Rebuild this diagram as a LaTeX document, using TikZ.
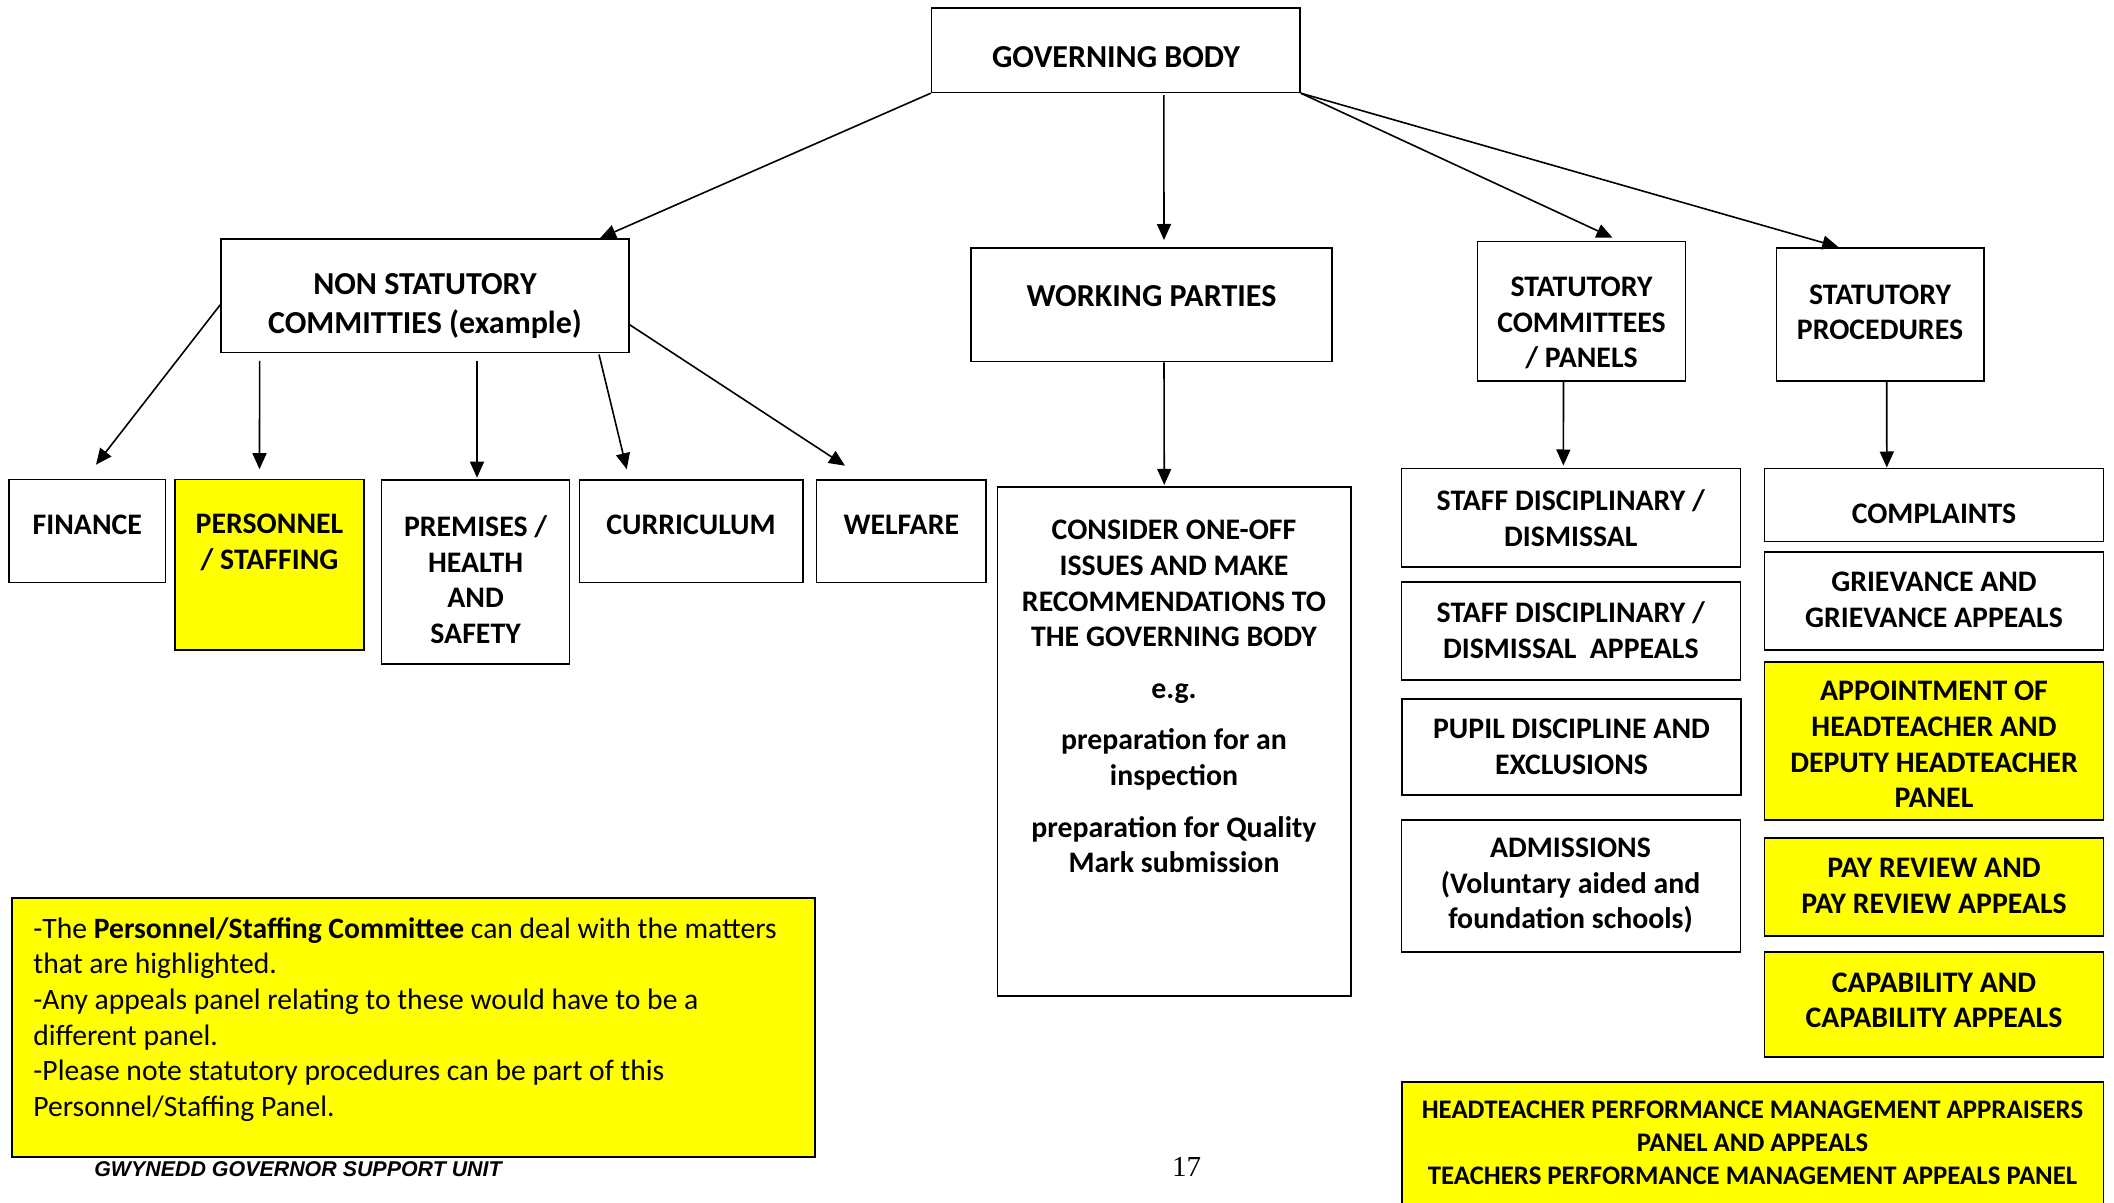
\documentclass[tikz,border=0pt]{standalone}
\usepackage{fontspec}
\setmainfont{Carlito}
\newfontfamily\footfont{Liberation Sans}
\newfontfamily\pagefont{Liberation Serif}
\usetikzlibrary{arrows.meta,calc,fit}
\definecolor{hl}{RGB}{255,255,0}
\begin{document}
\begin{tikzpicture}[x=0.5pt,y=-0.5pt,
  box/.style={draw, line width=0.8pt, inner sep=0pt},
  ybox/.style={box, fill=hl},
  bt/.style={font=\fontsize{14.9}{17.8}\selectfont\bfseries, align=center, inner sep=0pt},
  btbig/.style={font=\fontsize{16}{19.5}\selectfont\bfseries, align=center, inner sep=0pt},
  arr/.style={-{Triangle[length=8pt,width=7pt]}, line width=0.8pt}]
\useasboundingbox (0,0) rectangle (2114,1203);
\clip (0,0) rectangle (2114,1203);
\fill[white] (0,0) rectangle (2114,1203);
% boxes
\node[box, fit={(931.6,8) (1300,92.4)}] (gb) {};
\node[box, fit={(221,239) (629,352.7)}] (ns) {};
\node[box, fit={(971,247.8) (1332,361.6)}] (wp) {};
\node[box, fit={(1477.4,241.5) (1685.6,381)}] (sc) {};
\node[box, fit={(1776.6,247.8) (1984,381)}] (sp) {};
\node[box, fit={(9,479.5) (165.6,582.6)}] (fin) {};
\node[ybox, fit={(175,479.5) (364,650)}] (pers) {};
\node[box, fit={(381.6,480) (569.6,664)}] (prem) {};
\node[box, fit={(579.5,480) (803,582.6)}] (curr) {};
\node[box, fit={(816.6,480) (986,582.6)}] (welf) {};
\node[box, fit={(997.5,487) (1351,996)}] (cons) {};
\node[box, fit={(1401.4,468.3) (1740.3,567)}] (sd) {};
\node[box, fit={(1401.4,582) (1740.3,680)}] (sda) {};
\node[box, fit={(1402,699) (1741,795)}] (pup) {};
\node[box, fit={(1401.4,820) (1740.3,952)}] (adm) {};
\node[box, fit={(1764.5,468.3) (2103.5,541.5)}] (comp) {};
\node[box, fit={(1764.5,551.8) (2103.5,650)}] (griev) {};
\node[ybox, fit={(1764.5,662) (2103.5,820)}] (appt) {};
\node[ybox, fit={(1764.5,838) (2103.5,936)}] (pay) {};
\node[ybox, fit={(1764.5,952) (2103.5,1057)}] (cap) {};
\node[ybox, fit={(1402,1082) (2103.5,1215)}] (htp) {};
\node[box, line width=1.1pt, fill=hl, fit={(11.6,898) (815,1157)}] (note) {};
% texts
\node[btbig] (gbt) at (1116,56.7) {GOVERNING BODY};
\node[btbig] (nst) at (425,306.5) {NON STATUTORY\\COMMITTIES (example)};
\node[btbig] (wpt) at (1151.5,296) {WORKING PARTIES};
\node[bt] (sct) at (1581.5,323) {STATUTORY\\COMMITTEES\\/ PANELS};
\node[bt] (spt) at (1880,312.5) {STATUTORY\\PROCEDURES};
\node[bt] (fint) at (87.3,524.5) {FINANCE};
\node[bt] (perst) at (269.5,542.2) {PERSONNEL\\/ STAFFING};
\node[bt] (premt) at (475.6,579.5) {PREMISES /\\HEALTH\\AND\\SAFETY};
\node[bt] (currt) at (691,524.5) {CURRICULUM};
\node[bt] (welft) at (901.3,524.5) {WELFARE};
\node[bt, anchor=north] (const) at (1174,520) {CONSIDER ONE-OFF\\ISSUES AND MAKE\\RECOMMENDATIONS TO\\THE GOVERNING BODY\\[8pt]e.g.\\[8pt]preparation for an\\inspection\\[8pt]preparation for Quality\\Mark submission};
\node[bt] (sdt) at (1570.8,517.9) {STAFF DISCIPLINARY /\\DISMISSAL};
\node[bt] (sdat) at (1570.8,630.3) {STAFF DISCIPLINARY /\\DISMISSAL\ \ APPEALS};
\node[bt] (pupt) at (1571.5,746.7) {PUPIL DISCIPLINE AND\\EXCLUSIONS};
\node[bt] (admt) at (1570.5,885.5) {ADMISSIONS\\(Voluntary aided and\\foundation schools)};
\node[bt] (compt) at (1934,513.4) {COMPLAINTS};
\node[bt] (grievt) at (1934,600) {GRIEVANCE AND\\GRIEVANCE APPEALS};
\node[bt] (apptt) at (1934,744.5) {APPOINTMENT OF\\HEADTEACHER AND\\DEPUTY HEADTEACHER\\PANEL};
\node[bt] (payt) at (1934,886) {PAY REVIEW AND\\PAY REVIEW APPEALS};
\node[bt] (capt) at (1934,1000.4) {CAPABILITY AND\\CAPABILITY APPEALS};
\node[font=\fontsize{13.4}{16.5}\selectfont\bfseries, align=center, inner sep=0pt] (htpt) at (1752.5,1143) {HEADTEACHER PERFORMANCE MANAGEMENT APPRAISERS\\PANEL AND APPEALS\\TEACHERS PERFORMANCE MANAGEMENT APPEALS PANEL};
\node[font=\fontsize{14.8}{17.8}\selectfont, align=left, anchor=north west, inner sep=0pt] (notet) at (33,917) {-The \textbf{Personnel/Staffing Committee} can deal with the matters\\that are highlighted.\\-Any appeals panel relating to these would have to be a\\different panel.\\-Please note statutory procedures can be part of this\\Personnel/Staffing Panel.};
\node[font=\footfont\fontsize{10.7}{12}\selectfont\bfseries\itshape, inner sep=0pt] (foot) at (298,1169) {GWYNEDD GOVERNOR SUPPORT UNIT};
\node[font=\pagefont\fontsize{14.5}{17}\selectfont, inner sep=0pt] (page) at (1186.5,1167) {17};
% arrows
\draw[arr] (gb.south west) -- ($(ns.north)+(175,0)$);
\draw[arr] ($(gb.south)+(48,2)$) -- ($(wp.north)+(12.5,-7)$);
\draw[arr] (gb.south east) -- ($(sc.north)+(31,-3)$);
\draw[arr] (gb.south east) -- ($(sp.north)+(-42,0)$);
\draw[arr] ($(ns.west)+(0,9)$) -- ($(fin.north)+(8.7,-14)$);
\draw[arr] ($(ns.south)+(-165.4,7.3)$) -- ($(pers.north)+(-10,-9.5)$);
\draw[arr] ($(ns.south)+(52,8)$) -- ($(prem.north)+(1.4,-1.5)$);
\draw[arr] ($(ns.south)+(174,1)$) -- ($(curr.north)+(-64.5,-10)$);
\draw[arr] ($(ns.east)+(0,29)$) -- ($(welf.north)+(-56.3,-13.5)$);
\draw[arr] ($(wp.south)+(12.5,0)$) -- ($(cons.north)+(-10,-1.3)$);
\draw[arr] ($(sc.south)+(-18,0)$) -- ($(sd.north)+(-7.5,-2)$);
\draw[arr] ($(sp.south)+(6.4,0)$) -- ($(comp.north)+(-47.2,0)$);
\end{tikzpicture}
\end{document}
